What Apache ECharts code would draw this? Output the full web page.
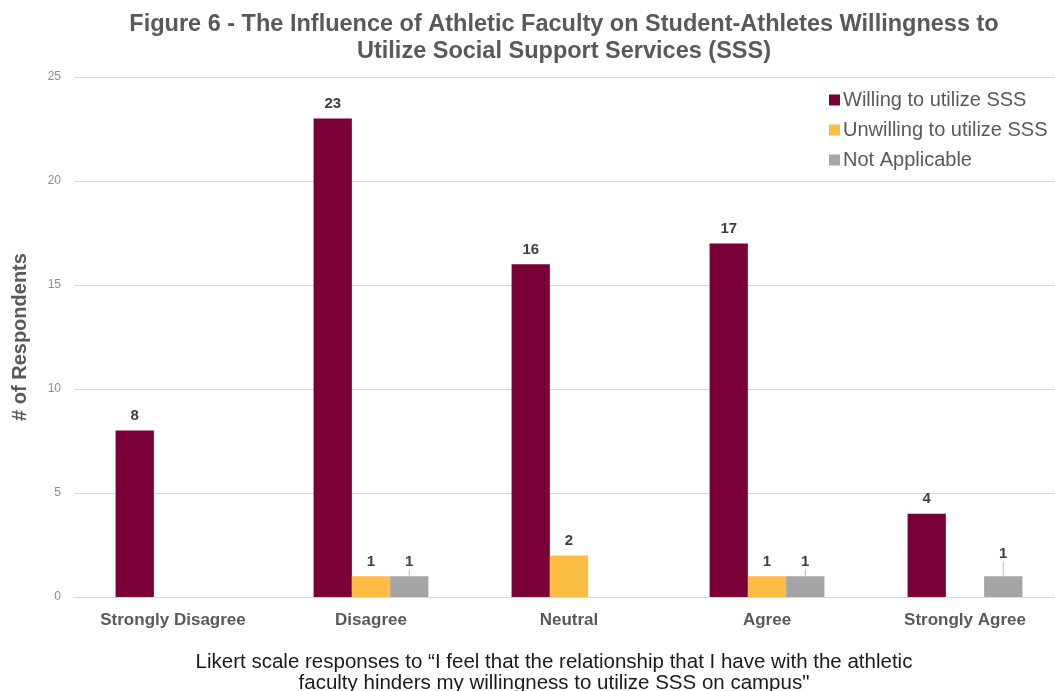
<!DOCTYPE html>
<html>
<head>
<meta charset="utf-8">
<script src="https://cdn.jsdelivr.net/npm/echarts@6/dist/echarts.min.js"></script>
<style>
  html, body { margin: 0; padding: 0; background: #fff; overflow: hidden; }
  #chart { width: 1064px; height: 691px; }
</style>
</head>
<body>
<div id="chart"></div>
<script>
// Likert responses and counts per group
const categories = ['Strongly Disagree', 'Disagree', 'Neutral', 'Agree', 'Strongly Agree'];
const willing = [8, 23, 16, 17, 4];
const unwilling = [null, 1, 2, 1, null];
const notApplicable = [null, 1, null, 1, 1];
const seriesNames = ['Willing to utilize SSS', 'Unwilling to utilize SSS', 'Not Applicable'];
const yTicks = { min: 0, max: 25, interval: 5 };

const colors = ['#7a0038', '#fbbd43', '#a5a5a5'];
const darkText = '#595959';
const fontFamily = 'Liberation Sans, Arial, sans-serif';

const valueLabel = {
  show: true,
  position: 'top',
  distance: 7,
  color: '#404040',
  fontSize: 15,
  fontWeight: 'bold',
  fontFamily: fontFamily
};

const chart = echarts.init(document.getElementById('chart'), null, { renderer: 'canvas' });
chart.setOption({
  animation: false,
  color: colors,
  textStyle: { fontFamily: fontFamily },
  title: [
    {
      text: 'Figure 6 - The Influence of Athletic Faculty on Student-Athletes Willingness to\nUtilize Social Support Services (SSS)',
      left: 564,
      top: 11,
      padding: 0,
      textAlign: 'center',
      textStyle: {
        fontFamily: fontFamily,
        fontSize: 23.5,
        fontWeight: 'bold',
        color: darkText,
        lineHeight: 27
      }
    },
    {
      text: 'Likert scale responses to \u201cI feel that the relationship that I have with the athletic\nfaculty hinders my willingness to utilize SSS on campus"',
      left: 554,
      top: 652,
      padding: 0,
      textAlign: 'center',
      textStyle: {
        fontFamily: fontFamily,
        fontSize: 20.5,
        fontWeight: 'normal',
        color: '#1a1a1a',
        lineHeight: 21
      }
    }
  ],
  legend: {
    orient: 'vertical',
    left: 824,
    top: 85,
    itemWidth: 11,
    itemHeight: 11,
    itemGap: 10,
    icon: 'rect',
    textStyle: { fontSize: 20, color: darkText, fontFamily: fontFamily, padding: [0, 0, 0, -2] },
    data: seriesNames
  },
  grid: { left: 74, right: 0, top: 77, bottom: 94, containLabel: false },
  xAxis: {
    type: 'category',
    data: categories,
    axisLine: { show: true, lineStyle: { color: '#d9d9d9' } },
    axisTick: { show: false },
    axisLabel: {
      color: darkText,
      fontSize: 17,
      fontWeight: 'bold',
      margin: 15,
      fontFamily: fontFamily
    }
  },
  yAxis: {
    type: 'value',
    min: yTicks.min,
    max: yTicks.max,
    interval: yTicks.interval,
    name: '# of Respondents',
    nameLocation: 'middle',
    nameGap: 44,
    nameTextStyle: { color: darkText, fontSize: 20, fontWeight: 'bold', fontFamily: fontFamily },
    axisLine: { show: false },
    axisTick: { show: false },
    axisLabel: { color: '#8c8c8c', fontSize: 12, margin: 13 },
    splitLine: { lineStyle: { color: '#d9d9d9', width: 1 } }
  },
  series: [
    { name: seriesNames[0], type: 'bar', data: willing, barGap: '0%', barCategoryGap: '42%', label: valueLabel },
    { name: seriesNames[1], type: 'bar', data: unwilling, barGap: '0%', barCategoryGap: '42%', label: valueLabel },
    {
      name: seriesNames[2], type: 'bar', data: notApplicable, barGap: '0%', barCategoryGap: '42%', label: valueLabel,
      // The lone label on the last group is lifted and tied back to its bar
      labelLayout: function (params) {
        return params.dataIndex === 4 ? { dy: -8 } : {};
      },
      labelLine: { show: true, lineStyle: { color: '#bfbfbf', width: 1 } }
    }
  ]
});
</script>
</body>
</html>
